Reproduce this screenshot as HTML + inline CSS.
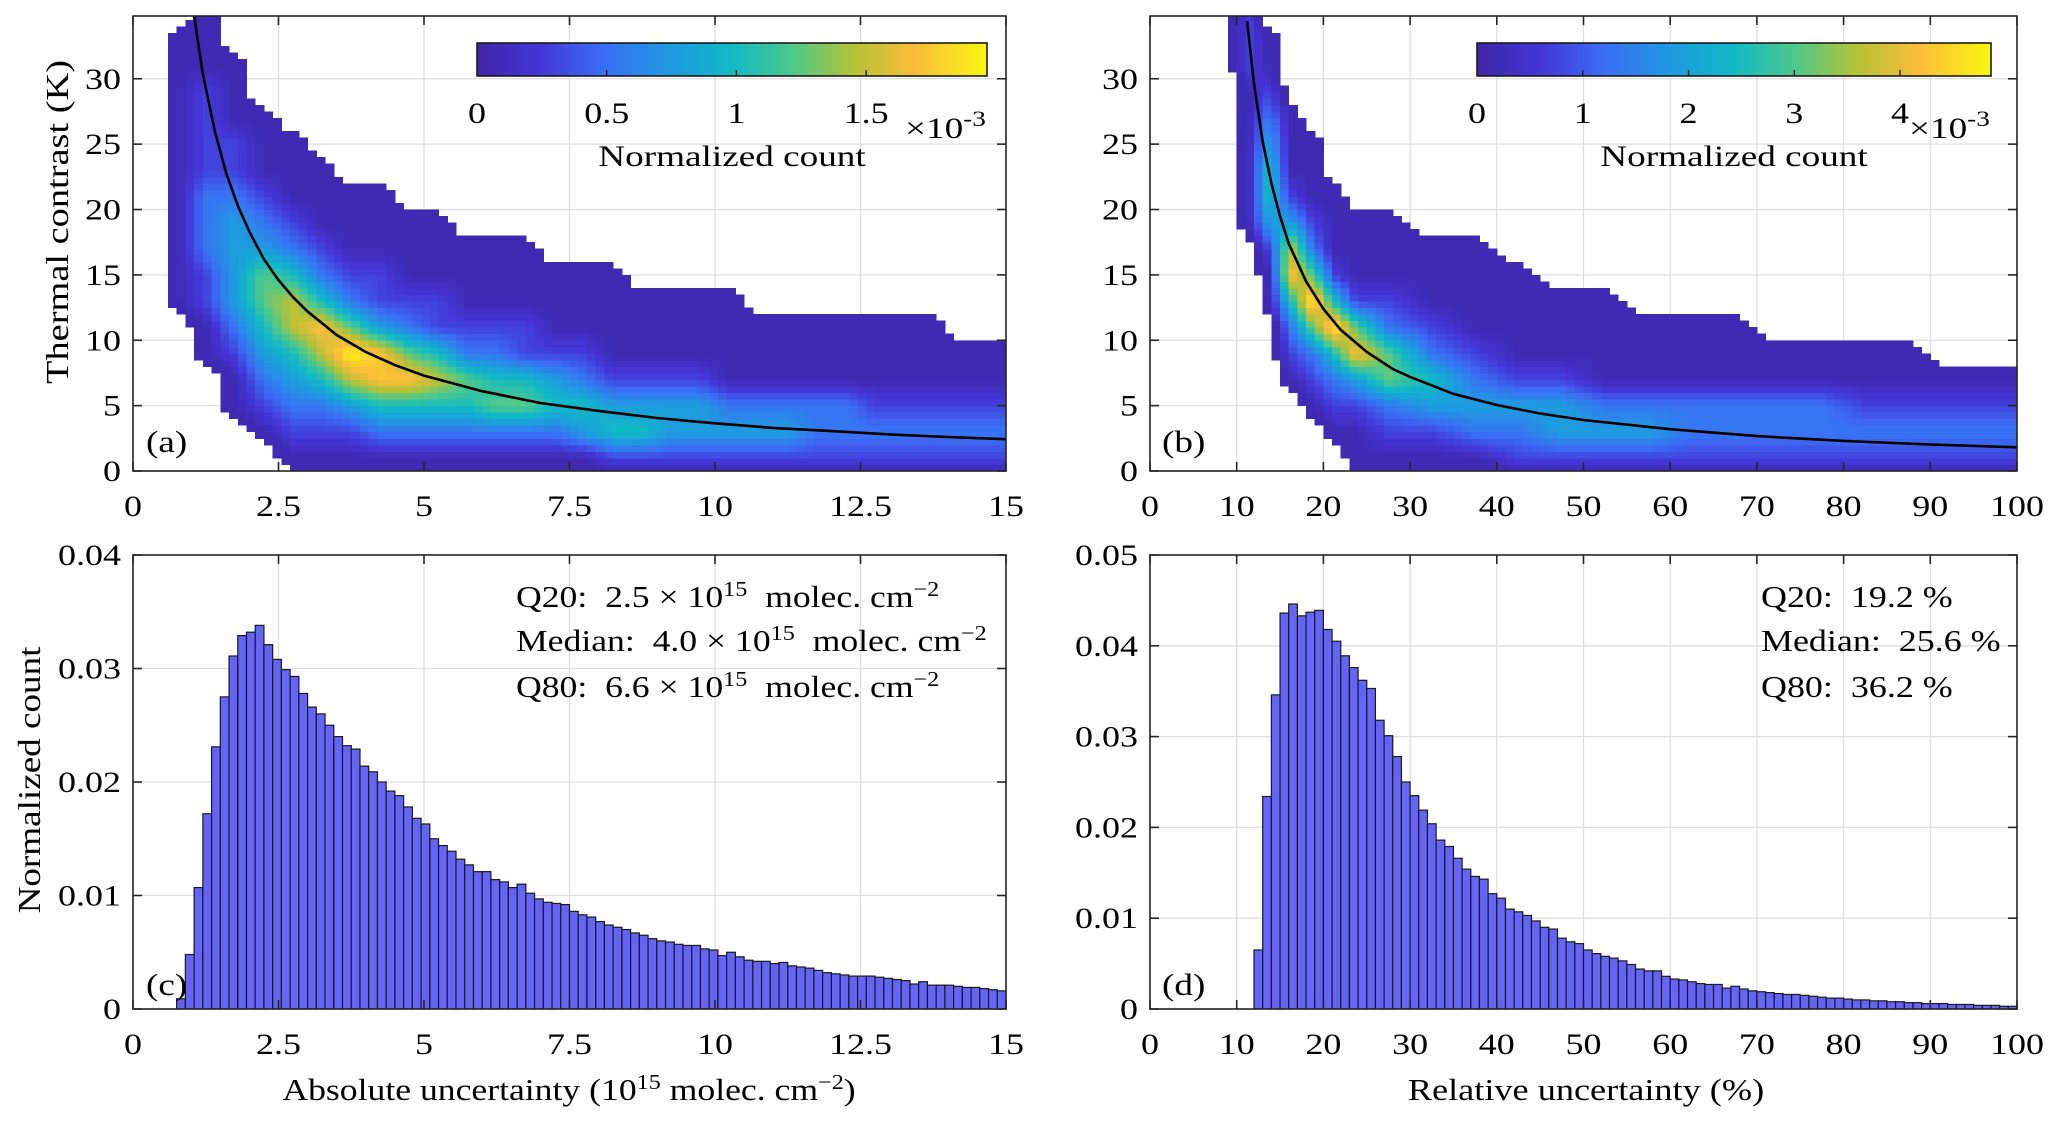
<!DOCTYPE html>
<html><head><meta charset="utf-8"><title>Uncertainty figure</title>
<style>
html,body{margin:0;padding:0;background:#fff;}
svg{display:block;font-family:"Liberation Serif",serif;}
text{white-space:pre;}
</style></head>
<body>
<svg id="fig" xmlns="http://www.w3.org/2000/svg" width="2067" height="1125" viewBox="0 0 2067 1125" style="position:absolute;left:0;top:0">
<defs>
<linearGradient id="parula" x1="0" y1="0" x2="1" y2="0">
<stop offset="0" stop-color="#3e26a8"/><stop offset="0.12" stop-color="#4435d6"/>
<stop offset="0.25" stop-color="#3a6ff5"/><stop offset="0.38" stop-color="#1e9ae0"/>
<stop offset="0.5" stop-color="#10b9c6"/><stop offset="0.62" stop-color="#4ec98a"/>
<stop offset="0.74" stop-color="#b6c136"/><stop offset="0.86" stop-color="#fbbd3a"/>
<stop offset="1" stop-color="#f9f70f"/>
</linearGradient>
<clipPath id="clipA"><rect x="133" y="16" width="873" height="455"/></clipPath>
<clipPath id="clipB"><rect x="1150" y="16" width="867" height="455"/></clipPath>
</defs>
</svg>
<script>
// ---------- data ----------
// Panel (a) density: columns of 0.5 units (0..15), rows of 2 K from top (34-36) to bottom (0-2); level 1..9, '.' = empty
const densA = [
"..................",
".11111111111......",
"11122223332211....",
"..11122344443211..",
"....1112346654321.",
".....1112357754321",
"......111235875321",
".......11123697421",
".......11122488531",
"........1112368531",
"........1112257531",
".........111236531",
".........111235631",
".........111225631",
"..........11124531",
"..........11123541",
"..........11112452",
"...........1112452",
"...........1112442",
"...........1112442",
"...........1111342",
"............111342",
"............111342",
"............111332",
"............111332",
"............111232",
"............111232",
"............111232",
".............11232",
".............11232"
];
// Panel (b) density: columns bounded by densBedges (%)
const densBedges = [10,12.5,15,17.5,20,22.5,25,30,35,40,45,50,55,60,65,70,75,80,85,90,95,100];
const densB = [
"222111111.........",
".11234554211......",
"....11124785321...",
".....11123696321..",
".......1112595321.",
"........1112684211",
"........1112366321",
".........111235421",
".........111123431",
"..........11112432",
"...........1112442",
"...........1111342",
"............111342",
"............111332",
"............111332",
".............11332",
".............11332",
".............11232",
".............11232",
"..............1232",
"..............1232"
];
// Fit curves (sample points)
const fitAx = [1.05,1.2,1.4,1.6,1.8,2,2.25,2.5,2.75,3,3.5,4,4.5,5,6,7,8,9,10,11,12,13,14,15];
const fitAy = [34.8,30.4,26.1,22.8,20.3,18.3,16.2,14.6,13.3,12.2,10.4,9.1,8.1,7.3,6.1,5.2,4.6,4.05,3.65,3.3,3.05,2.8,2.6,2.43];
const fitBx = [11.2,12,13,14,15,16,18,20,22,25,28,30,35,40,45,50,60,70,80,90,100];
const fitBy = [34.4,29.6,25.2,22.0,19.5,17.4,14.5,12.4,10.8,9.1,7.8,7.2,5.9,5.05,4.4,3.9,3.2,2.67,2.3,2.03,1.81];
// Panel (c) histogram: bins of 0.15 from 0 to 15
const histCbinW = 0.15;
const histC = [0,0,0,0,0,0.0009,0.0048,0.0107,0.0172,0.0231,0.0275,0.0311,0.0329,0.0332,0.0338,0.0321,0.0308,0.0299,0.0293,0.0278,0.0266,0.0260,0.0250,0.0240,0.0232,0.0229,0.0214,0.0209,0.0200,0.0192,0.0188,0.0178,0.0168,0.0163,0.0150,0.0144,0.0139,0.0132,0.0127,0.0121,0.0121,0.0114,0.0112,0.0107,0.0110,0.0102,0.0097,0.0094,0.0093,0.0092,0.0086,0.0083,0.0081,0.0077,0.0074,0.0072,0.0070,0.0067,0.0065,0.0062,0.0060,0.0059,0.0057,0.0056,0.0056,0.0053,0.0052,0.0047,0.0050,0.0046,0.0043,0.0042,0.0042,0.0040,0.0041,0.0038,0.0037,0.0036,0.0034,0.0032,0.0031,0.0030,0.0029,0.0029,0.0029,0.0028,0.0027,0.0026,0.0025,0.0022,0.0024,0.0021,0.0021,0.0021,0.0020,0.0019,0.0019,0.0018,0.0017,0.0016];
// Panel (d) histogram: bins of 1 % starting at 12
const histDstart = 12;
const histD = [0.0065,0.0234,0.0346,0.0436,0.0446,0.0433,0.0437,0.0439,0.0418,0.0405,0.0389,0.0376,0.0362,0.0353,0.0318,0.0301,0.0278,0.0250,0.0235,0.0219,0.0204,0.0186,0.0179,0.0166,0.0154,0.0146,0.0143,0.0127,0.0122,0.0110,0.0107,0.0103,0.0097,0.0090,0.0088,0.0078,0.0074,0.0072,0.0065,0.0061,0.0058,0.0056,0.0053,0.0049,0.0044,0.0042,0.0042,0.0036,0.0033,0.0032,0.0030,0.0028,0.0027,0.0027,0.0023,0.0025,0.0022,0.0020,0.0019,0.0018,0.0017,0.0016,0.0016,0.0015,0.0014,0.0013,0.0012,0.0012,0.0011,0.0010,0.0010,0.0009,0.0009,0.0008,0.0008,0.0007,0.0007,0.0006,0.0006,0.0006,0.0005,0.0005,0.0005,0.0004,0.0004,0.0004,0.0003,0.0003];
// tick labels
const xTicksA = ["0","2.5","5","7.5","10","12.5","15"];
const xTicksB = ["0","10","20","30","40","50","60","70","80","90","100"];
const yTicksTop = ["0","5","10","15","20","25","30"];
const yTicksC = ["0","0.01","0.02","0.03","0.04"];
const yTicksD = ["0","0.01","0.02","0.03","0.04","0.05"];
const cbTicksA = ["0","0.5","1","1.5"];
const cbTicksB = ["0","1","2","3","4"];

// ---------- drawing ----------
const NS = "http://www.w3.org/2000/svg";
const svg = document.getElementById("fig");
const SX = 1.2;
function mk(tag, attrs, parent){
  const e = document.createElementNS(NS, tag);
  for (const k in attrs) e.setAttribute(k, attrs[k]);
  (parent || svg).appendChild(e);
  return e;
}
function txt(s, x, y, size, anchor, parent){
  const t = mk("text", {x:0, y:0, transform:"translate("+x+","+y+") scale("+SX+",1)", "font-size":size, "text-anchor":anchor||"middle", fill:"#000"}, parent);
  t.textContent = s;
  return t;
}
const PAR = [[0,"#3e26a8"],[0.12,"#4435d6"],[0.25,"#3a6ff5"],[0.38,"#1e9ae0"],[0.5,"#10b9c6"],[0.62,"#4ec98a"],[0.74,"#b6c136"],[0.86,"#fbbd3a"],[1,"#f9f70f"]];
function hex(h){return [parseInt(h.substr(1,2),16),parseInt(h.substr(3,2),16),parseInt(h.substr(5,2),16)];}
function parula(f){
  f=Math.max(0,Math.min(1,f));
  for(let i=1;i<PAR.length;i++){ if(f<=PAR[i][0]){ const a=hex(PAR[i-1][1]),b=hex(PAR[i][1]); const t=(f-PAR[i-1][0])/(PAR[i][0]-PAR[i-1][0]); return "rgb("+a.map((v,j)=>Math.round(v+(b[j]-v)*t)).join(",")+")"; } }
  return PAR[PAR.length-1][1];
}
function axis(x0,x1,y0,y1,xmin,xmax,ymin,ymax){
  return {x0,x1,y0,y1,xmin,xmax,ymin,ymax,
    sx:v=>x0+(v-xmin)/(xmax-xmin)*(x1-x0),
    sy:v=>y1-(v-ymin)/(ymax-ymin)*(y1-y0)};
}
const A = axis(133,1006,16,471,0,15,0,34.8);
const B = axis(1150,2017,16,471,0,100,0,34.8);
const C = axis(133,1006,555,1009,0,15,0,0.04);
const D = axis(1150,2017,555,1009,0,100,0,0.05);

function grid(ax, xt, yt, name){
  const g = mk("g", {});
  
  
  xt.forEach(s=>{const x=ax.sx(parseFloat(s)); mk("line",{x1:x,x2:x,y1:ax.y0,y2:ax.y1,stroke:"#dedede","stroke-width":1.3},g);});
  yt.forEach(s=>{const y=ax.sy(parseFloat(s)); mk("line",{x1:ax.x0,x2:ax.x1,y1:y,y2:y,stroke:"#dedede","stroke-width":1.3},g);});
}
function frame(ax, xt, yt, name){
  const g = mk("g", {});
  
  
  mk("rect",{x:ax.x0,y:ax.y0,width:ax.x1-ax.x0,height:ax.y1-ax.y0,fill:"none",stroke:"#262626","stroke-width":1.6},g);
  const L=9;
  xt.forEach(s=>{const x=ax.sx(parseFloat(s));
    mk("line",{x1:x,x2:x,y1:ax.y1,y2:ax.y1-L,stroke:"#262626","stroke-width":1.6},g);
    mk("line",{x1:x,x2:x,y1:ax.y0,y2:ax.y0+L,stroke:"#262626","stroke-width":1.6},g);
    const t=txt(s,x,ax.y1+45,30,"middle",g);
    
    
  });
  yt.forEach(s=>{const y=ax.sy(parseFloat(s));
    mk("line",{x1:ax.x0,x2:ax.x0+L,y1:y,y2:y,stroke:"#262626","stroke-width":1.6},g);
    mk("line",{x1:ax.x1,x2:ax.x1-L,y1:y,y2:y,stroke:"#262626","stroke-width":1.6},g);
    const t=txt(s,ax.x0-12,y+10,30,"end",g);
    
    
  });
}
// smooth rendering of the coarse density table (bilinear between cell centres)
function heat(ax, cols, edges, clip, name, fineDx){
  const g = mk("g", {"clip-path":"url(#"+clip+")","shape-rendering":"crispEdges"});
  
  
  const nR = cols[0].length;
  const cx = cols.map((c,i)=>(edges[i]+edges[i+1])/2);
  const lv = (ci,r)=>{ if(ci<0||ci>=cols.length||r<0||r>=nR) return 0; const ch=cols[ci][r]; return ch==="."?0:parseInt(ch,10); };
  const fineDy = 0.5;
  for(let x=ax.xmin; x<ax.xmax-1e-9; x+=fineDx){
    const xm = x+fineDx/2;
    if(xm<edges[0]-fineDx || xm>edges[edges.length-1]) continue;
    let i=-1; while(i+1<cx.length && cx[i+1]<=xm) i++;
    let tx;
    if(i<0){ tx = 1-(cx[0]-xm)/(cx[0]-edges[0])/2; }
    else if(i>=cx.length-1){ tx=0; }
    else tx=(xm-cx[i])/(cx[i+1]-cx[i]);
    for(let y=0; y<ax.ymax; y+=fineDy){
      const ym=y+fineDy/2;
      const rf=(35-ym)/2; const r0=Math.floor(rf); const ty=rf-r0;
      let v;
      if(i<0){ v=(lv(0,r0)*(1-ty)+lv(0,r0+1)*ty)*Math.max(0,tx); }
      else v=(lv(i,r0)*(1-tx)*(1-ty)+lv(i+1,r0)*tx*(1-ty)+lv(i,r0+1)*(1-tx)*ty+lv(i+1,r0+1)*tx*ty);
      if(v<0.55) continue;
      const xa=ax.sx(x), xb=ax.sx(x+fineDx), ya=ax.sy(y+fineDy), yb=ax.sy(y);
      const c = mk("rect",{x:xa.toFixed(1),y:ya.toFixed(1),width:(xb-xa+0.5).toFixed(1),height:(yb-ya+0.5).toFixed(1),fill:parula(0.03+(Math.max(1,v)-1)/8*0.97)},g);
      
      
    }
  }
}
function curve(ax, xs, ys, clip, name){
  const d = xs.map((x,i)=>(i?"L":"M")+ax.sx(x).toFixed(1)+","+ax.sy(ys[i]).toFixed(1)).join(" ");
  const p = mk("path",{d:d,fill:"none",stroke:"#000","stroke-width":2.6,"clip-path":"url(#"+clip+")"});
  
  
}
function bars(ax, vals, start, w, name){
  const g = mk("g", {});
  
  
  vals.forEach((v,i)=>{
    if(v<=0) return;
    const xa=ax.sx(start+i*w), xb=ax.sx(start+(i+1)*w), y=ax.sy(v);
    const b = mk("rect",{x:xa,y:y,width:xb-xa,height:ax.y1-y,fill:"#6464f8",stroke:"#1a1a1a","stroke-width":1.2},g);
    
    
  });
}
function colorbar(x0,x1,y0,y1,ticks,step,max,name){
  const g = mk("g", {});
  
  
  mk("rect",{x:x0,y:y0,width:x1-x0,height:y1-y0,fill:"url(#parula)",stroke:"#1a1a1a","stroke-width":1.6},g);
  ticks.forEach((s,i)=>{
    const x = x0 + (i*step)/max*(x1-x0);
    if(i>0) mk("line",{x1:x,x2:x,y1:y1,y2:y1-6,stroke:"#1a1a1a","stroke-width":1.4},g);
    const t=txt(s,x,y0+80,30,"middle",g);
    
    
  });
  const e = mk("text",{x:0,y:0,transform:"translate("+(x1-82)+","+(y0+95)+") scale(1.24,1)","font-size":30,fill:"#000"},g);
  e.innerHTML = '×10<tspan dy="-12" font-size="22">-3</tspan>';
  
  
  const l = mk("text",{x:0,y:0,transform:"translate("+((x0+x1)/2)+","+(y0+123)+") scale(1.24,1)","font-size":30,"text-anchor":"middle",fill:"#000"},g);
  l.textContent = "Normalized count";
  
  
}
const edgesA = densA.map((c,i)=>i*0.5).concat([15]);

// panel a
grid(A, xTicksA, yTicksTop, "panel-a");
heat(A, densA, edgesA, "clipA", "panel-a", 0.15);
curve(A, fitAx, fitAy, "clipA", "panel-a");
frame(A, xTicksA, yTicksTop, "panel-a");
colorbar(477,987,43,76,cbTicksA,0.5,1.966,"panel-a");
// panel b
grid(B, xTicksB, yTicksTop, "panel-b");
heat(B, densB, densBedges, "clipB", "panel-b", 1);
curve(B, fitBx, fitBy, "clipB", "panel-b");
frame(B, xTicksB, yTicksTop, "panel-b");
colorbar(1477,1991,43,76,cbTicksB,1,4.86,"panel-b");
// panel c
grid(C, xTicksA, yTicksC, "panel-c");
bars(C, histC, 0, histCbinW, "panel-c");
frame(C, xTicksA, yTicksC, "panel-c");
// panel d
grid(D, xTicksB, yTicksD, "panel-d");
bars(D, histD, histDstart, 1, "panel-d");
frame(D, xTicksB, yTicksD, "panel-d");
</script>
<svg style="position:absolute;left:0;top:0" width="2067" height="1125" font-family="Liberation Serif, serif">
<text transform="translate(146,452) scale(1.2,1)" font-size="31">(a)</text>
<text transform="translate(1162,452) scale(1.2,1)" font-size="31">(b)</text>
<text transform="translate(146,995) scale(1.2,1)" font-size="31">(c)</text>
<text transform="translate(1162,995) scale(1.2,1)" font-size="31">(d)</text>
<text transform="translate(68,222) rotate(-90) scale(1.2,1)" text-anchor="middle" font-size="32">Thermal contrast (K)</text>
<text transform="translate(40,780) rotate(-90) scale(1.16,1)" text-anchor="middle" font-size="32">Normalized count</text>
<text transform="translate(569,1100) scale(1.15,1)" text-anchor="middle" font-size="31">Absolute uncertainty (10<tspan dy="-11" font-size="21">15</tspan><tspan dy="11"> molec. cm</tspan><tspan dy="-11" font-size="21">−2</tspan><tspan dy="11">)</tspan></text>
<text transform="translate(1586,1100) scale(1.17,1)" text-anchor="middle" font-size="31">Relative uncertainty (%)</text>
<g font-size="31">
<text transform="translate(516,607) scale(1.15,1)">Q20:  2.5 × 10<tspan dy="-11" font-size="21">15</tspan><tspan dy="11">  molec. cm</tspan><tspan dy="-11" font-size="21">−2</tspan></text>
<text transform="translate(516,651) scale(1.15,1)">Median:  4.0 × 10<tspan dy="-11" font-size="21">15</tspan><tspan dy="11">  molec. cm</tspan><tspan dy="-11" font-size="21">−2</tspan></text>
<text transform="translate(516,697) scale(1.15,1)">Q80:  6.6 × 10<tspan dy="-11" font-size="21">15</tspan><tspan dy="11">  molec. cm</tspan><tspan dy="-11" font-size="21">−2</tspan></text>
</g>
<g font-size="31">
<text transform="translate(1761,607) scale(1.16,1)">Q20:  19.2 %</text>
<text transform="translate(1761,651) scale(1.16,1)">Median:  25.6 %</text>
<text transform="translate(1761,697) scale(1.16,1)">Q80:  36.2 %</text>
</g>
</svg>
</body></html>
